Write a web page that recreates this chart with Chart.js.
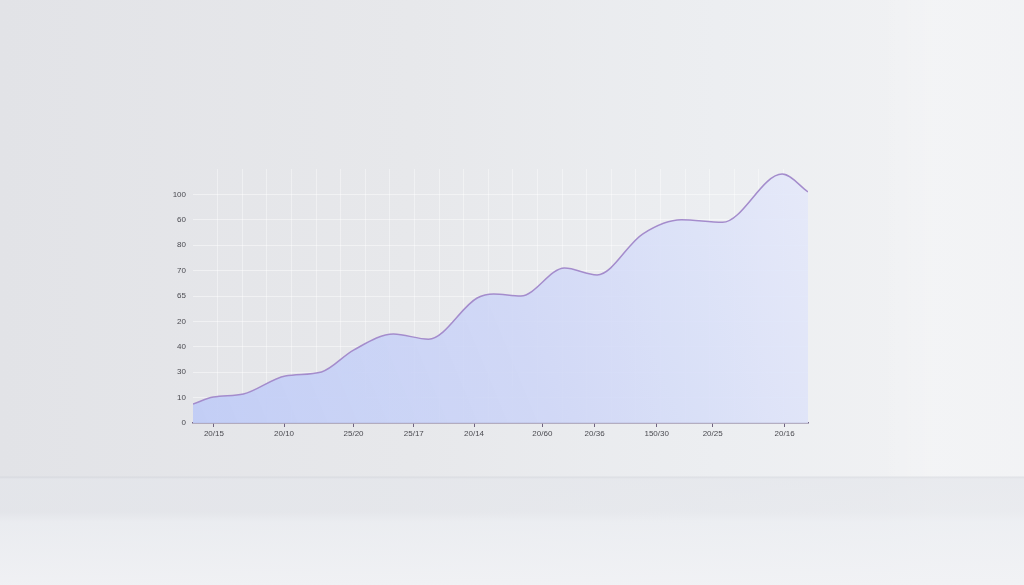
<!DOCTYPE html>
<html>
<head>
<meta charset="utf-8">
<script src="https://cdn.jsdelivr.net/npm/chart.js@4"></script>
<style>
    html, body {
        margin: 0;
        padding: 0;
        width: 1024px;
        height: 585px;
        overflow: hidden;
    }
    body {
        background:
            linear-gradient(180deg, rgba(0,0,0,0) 0px, rgba(0,0,0,0) 476px, rgba(205,208,215,0.5) 477px, rgba(228,230,235,0.7) 479px, rgba(228,230,235,0.6) 512px, rgba(236,238,242,0.8) 522px, rgba(241,242,245,0.9) 585px),
            linear-gradient(90deg, rgba(255,255,255,0) 0px, rgba(255,255,255,0) 880px, rgba(255,255,255,0.22) 935px, rgba(255,255,255,0.18) 1024px),
            linear-gradient(90deg, #e2e3e7 0%, #e7e8eb 40%, #eceef1 70%, #f0f1f3 88%, #eff0f3 100%);
    }
    #wrap {
        position: absolute;
        left: 0;
        top: 0;
        width: 1024px;
        height: 585px;
    }
</style>
</head>
<body>
<div id="wrap"><canvas id="areaChart"></canvas></div>
<script>
// Data
const xValues = [0, 3.3, 8.2, 15, 20.9, 26.1, 32.6, 38.3, 46.2, 48.9, 53.3, 60.4, 65.7, 73.1, 79.4, 86.1, 95.8, 100];
const yValues = [7.5, 10.2, 11.4, 18.5, 20.1, 28.7, 35, 33, 49.2, 50.8, 50, 61, 58.3, 74.4, 80, 79, 98, 91];

// Tick labels, as printed (bottom to top / left to right)
const yTickLabels = ['0', '10', '30', '40', '20', '65', '70', '80', '60', '100'];
const xTickLabels = ['20/15', '20/10', '25/20', '25/17', '20/14', '20/60', '20/36', '150/30', '20/25', '20/16'];
const xTickPositions = [3.4, 14.8, 26.1, 35.9, 45.7, 56.8, 65.3, 75.4, 84.5, 96.2];

const points = xValues.map((x, i) => ({ x: x, y: yValues[i] }));

// Fill gradient
function areaFill(context) {
    const chart = context.chart;
    const area = chart.chartArea;
    if (!area) return 'rgba(196, 205, 245, 0.8)';
    const g = chart.ctx.createLinearGradient(area.left, area.bottom, area.right, area.top);
    g.addColorStop(0, 'rgba(192, 204, 246, 0.95)');
    g.addColorStop(0.5, 'rgba(206, 214, 246, 0.9)');
    g.addColorStop(1, 'rgba(228, 232, 249, 0.9)');
    return g;
}

const ctx = document.getElementById('areaChart').getContext('2d');
new Chart(ctx, {
    type: 'line',
    data: {
        datasets: [{
            data: points,
            borderColor: '#a48ccc',
            borderWidth: 1.5,
            backgroundColor: areaFill,
            fill: 'origin',
            tension: 0.4,
            cubicInterpolationMode: 'monotone',
            pointRadius: 0
        }]
    },
    options: {
        responsive: true,
        maintainAspectRatio: false,
        animation: false,
        layout: {
            padding: { left: 153, right: 216, top: 169, bottom: 142 }
        },
        plugins: {
            legend: { display: false },
            tooltip: { enabled: false }
        },
        scales: {
            x: {
                type: 'linear',
                min: 0,
                max: 100,
                afterBuildTicks: function(scale) {
                    scale.ticks = xTickPositions.map(v => ({ value: v }));
                },
                afterFit: function(scale) {
                    scale.height = 20;
                },
                ticks: {
                    autoSkip: false,
                    maxRotation: 0,
                    padding: 2,
                    color: '#4a4a50',
                    font: { family: 'Liberation Sans', size: 8 },
                    callback: function(value, index) {
                        return xTickLabels[index];
                    }
                },
                grid: {
                    drawOnChartArea: false,
                    tickLength: 4,
                    tickColor: '#6f6380'
                },
                border: {
                    color: '#75668a',
                    width: 1.5
                }
            },
            xg: {
                type: 'linear',
                position: 'bottom',
                min: 0,
                max: 100,
                afterFit: function(scale) {
                    scale.height = 0;
                },
                ticks: { display: false, stepSize: 4 },
                grid: {
                    drawTicks: false,
                    color: function(c) {
                        return (c.tick && c.tick.value > 0 && c.tick.value < 100) ? 'rgba(255, 255, 255, 0.4)' : 'rgba(0,0,0,0)';
                    },
                    lineWidth: 1
                },
                border: { display: false }
            },
            y: {
                min: 0,
                max: 100,
                afterBuildTicks: function(scale) {
                    scale.ticks = yTickLabels.map((t, i) => ({ value: i * 10 }));
                },
                afterFit: function(scale) {
                    scale.width = 40;
                },
                ticks: {
                    padding: 7,
                    color: '#4a4a50',
                    font: { family: 'Liberation Sans', size: 8 },
                    callback: function(value, index) {
                        return yTickLabels[index];
                    }
                },
                grid: {
                    drawTicks: false,
                    color: 'rgba(255, 255, 255, 0.45)',
                    lineWidth: 1
                },
                border: { display: false }
            }
        }
    }
});
</script>
</body>
</html>
